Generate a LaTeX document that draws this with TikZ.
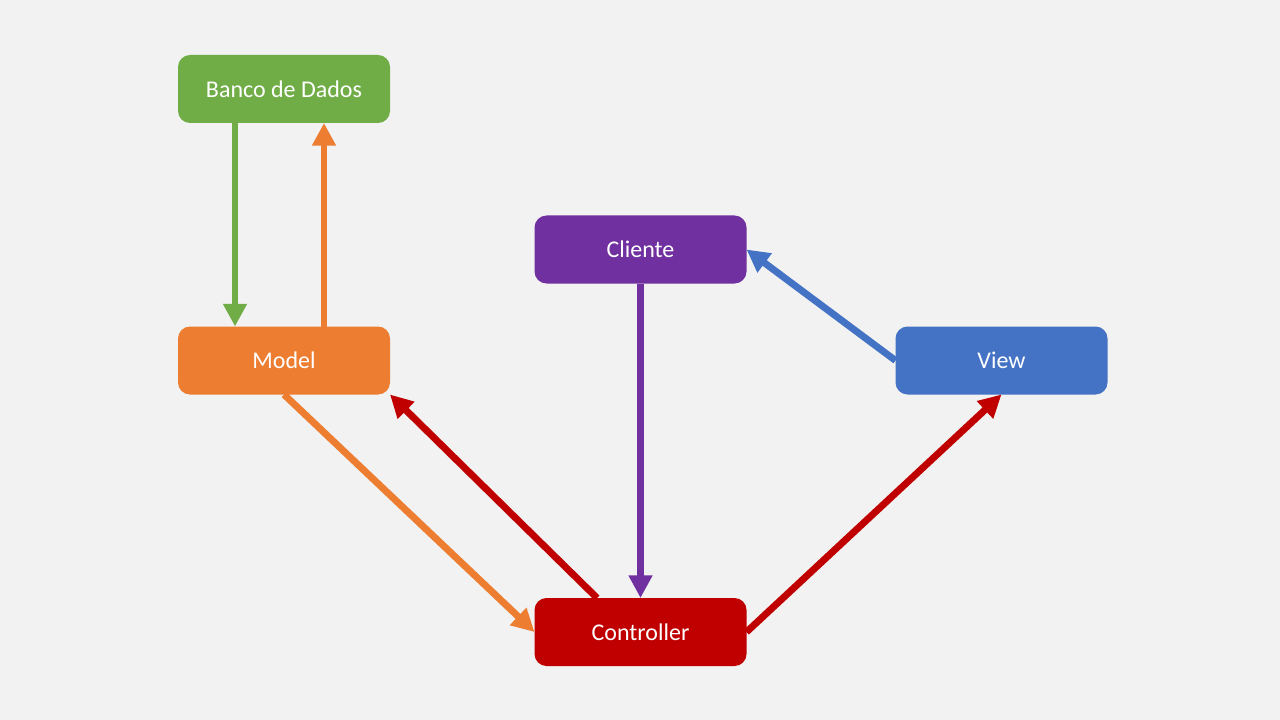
\documentclass[tikz,border=0pt]{standalone}
\usepackage{fontspec}
\setmainfont{Carlito}
\usetikzlibrary{arrows.meta}
\definecolor{bgcol}{HTML}{F2F2F2}
\definecolor{greencol}{HTML}{70AD47}
\definecolor{orangecol}{HTML}{ED7D31}
\definecolor{purplecol}{HTML}{7030A0}
\definecolor{bluecol}{HTML}{4472C4}
\definecolor{redcol}{HTML}{C00000}
\tikzset{
    box/.style={rectangle, rounded corners=9pt, minimum width=159pt, minimum height=51pt,
        outer sep=0pt, text=white, font=\fontsize{18}{22}\selectfont},
    flow/.style={line width=5.2pt, -{Triangle[length=17pt, width=17pt]}}
}

\begin{document}
\begin{tikzpicture}[x=0.75pt, y=-0.75pt]
            \fill[bgcol] (0,0) rectangle (1280,720);
            \useasboundingbox (0,0) rectangle (1280,720);
            % boxes
            \node[box, fill=greencol] (banco) at (284,89) {Banco de Dados};
            \node[box, fill=orangecol] (model) at (284,360.5) {Model};
            \node[box, fill=purplecol] (cliente) at (640.5,249.5) {Cliente};
            \node[box, fill=bluecol] (view) at (1001.5,360.5) {View};
            \node[box, fill=redcol] (controller) at (640.5,632) {Controller};
            % arrows
            \draw[flow, greencol] ([xshift=-36.75pt]banco.south) -- ([xshift=-36.75pt]model.north);
            \draw[flow, orangecol] ([xshift=30pt]model.north) -- ([xshift=30pt]banco.south);
            \draw[flow, orangecol] (model.south) -- (controller.west);
            \draw[flow, redcol] ([xshift=-32.6pt]controller.north) -- (model.south east);
            \draw[flow, purplecol] (cliente.south) -- (controller.north);
            \draw[flow, redcol] (controller.east) -- (view.south);
            \draw[flow, bluecol] (view.west) -- (cliente.east);
        \end{tikzpicture}
\end{document}
